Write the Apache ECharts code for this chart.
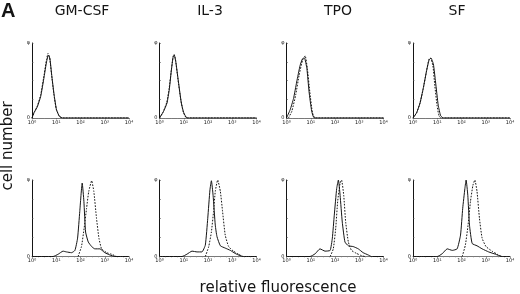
<!DOCTYPE html>
<html><head><meta charset="utf-8">
<script src="https://cdn.jsdelivr.net/npm/echarts@6/dist/echarts.min.js"></script>
<style>html,body{margin:0;padding:0;background:#fff}#c{width:520px;height:294px}</style>
</head><body><div id="c"></div>
<script>
// x = log10(relative fluorescence) in decades, y = relative cell number (axis max = 1)
const panelTitles = ['GM-CSF', 'IL-3', 'TPO', 'SF'];
const xTickLabels = ['10\u2070', '10\u00b9', '10\u00b2', '10\u00b3', '10\u2074'];
const yTickLabels = ['0', '\u03c6'];

// top row (control)
const gmTopSolid = [[0,0],[0.08,0.07],[0.22,0.15],[0.36,0.29],[0.5,0.55],[0.6,0.75],[0.68,0.84],[0.74,0.79],[0.82,0.55],[0.92,0.29],[1.01,0.11],[1.13,0.02],[1.26,0],[4,0]];
const gmTopDash  = [[0,0],[0.1,0.08],[0.22,0.16],[0.36,0.31],[0.5,0.58],[0.6,0.78],[0.66,0.86],[0.72,0.82],[0.8,0.6],[0.9,0.32],[1.0,0.12],[1.12,0.03],[1.25,0],[4,0]];
const il3TopSolid = [[0,0],[0.17,0.09],[0.31,0.2],[0.4,0.37],[0.49,0.64],[0.56,0.81],[0.61,0.84],[0.68,0.73],[0.79,0.46],[0.9,0.2],[1.0,0.07],[1.14,0],[4,0]];
const il3TopDash  = [[0,0],[0.15,0.08],[0.3,0.21],[0.4,0.4],[0.5,0.67],[0.56,0.82],[0.6,0.85],[0.66,0.78],[0.76,0.52],[0.88,0.24],[0.98,0.08],[1.12,0],[4,0]];
const tpoTopSolid = [[0,0],[0.15,0.11],[0.29,0.26],[0.42,0.48],[0.56,0.7],[0.66,0.79],[0.74,0.8],[0.84,0.66],[0.93,0.35],[1.04,0.09],[1.15,0],[4,0]];
const tpoTopDash  = [[0.08,0],[0.22,0.09],[0.38,0.31],[0.52,0.57],[0.66,0.77],[0.77,0.83],[0.86,0.66],[0.96,0.35],[1.07,0.07],[1.18,0],[4,0]];
const sfTopSolid = [[0,0],[0.15,0.07],[0.29,0.2],[0.42,0.39],[0.56,0.63],[0.66,0.77],[0.74,0.8],[0.84,0.72],[0.93,0.48],[1.04,0.17],[1.14,0.03],[1.25,0],[4,0]];
const sfTopDash  = [[0,0],[0.15,0.07],[0.29,0.2],[0.42,0.39],[0.56,0.63],[0.66,0.79],[0.72,0.8],[0.82,0.7],[0.9,0.43],[0.99,0.17],[1.07,0.03],[1.15,0],[4,0]];

// bottom row (stimulated)
const gmBotSolid = [[0,0],[0.87,0],[1.08,0.03],[1.28,0.07],[1.42,0.06],[1.63,0.05],[1.77,0.08],[1.88,0.24],[1.97,0.59],[2.07,0.96],[2.14,0.72],[2.21,0.32],[2.32,0.19],[2.46,0.13],[2.59,0.1],[2.8,0.1],[3.0,0.05],[3.21,0.02],[3.42,0],[4,0]];
const gmBotDash  = [[1.9,0],[2.04,0.13],[2.15,0.37],[2.25,0.63],[2.34,0.85],[2.46,0.99],[2.55,0.85],[2.66,0.5],[2.76,0.24],[2.87,0.1],[3.08,0.05],[3.28,0.03],[3.49,0]];
const il3BotSolid = [[0,0],[0.93,0],[1.13,0.03],[1.34,0.07],[1.55,0.06],[1.75,0.06],[1.89,0.15],[1.99,0.5],[2.08,0.87],[2.14,0.99],[2.21,0.8],[2.3,0.41],[2.37,0.26],[2.51,0.14],[2.71,0.11],[2.92,0.08],[3.12,0.04],[3.33,0.01],[3.47,0],[4,0]];
const il3BotDash  = [[1.89,0],[2.03,0.13],[2.14,0.32],[2.23,0.59],[2.3,0.85],[2.4,1.0],[2.51,0.85],[2.6,0.59],[2.71,0.28],[2.85,0.13],[3.05,0.07],[3.26,0.03],[3.42,0]];
const tpoBotSolid = [[0,0],[0.97,0],[1.18,0.035],[1.38,0.1],[1.59,0.07],[1.8,0.08],[1.89,0.24],[1.97,0.54],[2.07,0.89],[2.14,1.0],[2.21,0.8],[2.3,0.45],[2.41,0.19],[2.55,0.14],[2.75,0.13],[2.96,0.1],[3.16,0.05],[3.37,0.02],[3.5,0],[4,0]];
const tpoBotDash  = [[1.8,0],[1.93,0.1],[2.03,0.37],[2.11,0.72],[2.21,0.96],[2.27,1.0],[2.36,0.8],[2.44,0.45],[2.55,0.19],[2.68,0.08],[2.89,0.04],[3.1,0.01],[3.23,0]];
const sfBotSolid = [[0,0],[1.0,0],[1.2,0.035],[1.41,0.1],[1.62,0.08],[1.82,0.1],[1.96,0.28],[2.05,0.63],[2.14,0.89],[2.19,1.0],[2.26,0.8],[2.33,0.41],[2.44,0.17],[2.64,0.14],[2.85,0.1],[3.12,0.06],[3.4,0.03],[3.67,0],[4,0]];
const sfBotDash  = [[2.03,0],[2.16,0.15],[2.27,0.41],[2.37,0.72],[2.47,0.93],[2.55,1.0],[2.64,0.85],[2.74,0.5],[2.85,0.24],[3.01,0.13],[3.26,0.07],[3.47,0.03],[3.64,0]];

const topSolid = [gmTopSolid, il3TopSolid, tpoTopSolid, sfTopSolid];
const topDash = [gmTopDash, il3TopDash, tpoTopDash, sfTopDash];
const botSolid = [gmBotSolid, il3BotSolid, tpoBotSolid, sfBotSolid];
const botDash = [gmBotDash, il3BotDash, tpoBotDash, sfBotDash];

const lefts = [32, 159.5, 286.5, 413];
const W = 97;
const rows = [{top: 43, height: 75}, {top: 180, height: 76.5}];
const ink = '#151515';

const grid = [], xAxis = [], yAxis = [], series = [];
rows.forEach((r, ri) => {
  lefts.forEach((l, ci) => {
    const idx = grid.length;
    grid.push({left: l, top: r.top, width: W, height: r.height});
    xAxis.push({
      type: 'value', gridIndex: idx, min: 0, max: 4, interval: 1,
      axisLine: {show: true, lineStyle: {color: '#555', width: 0.8}},
      axisTick: {show: true, length: 1.5, lineStyle: {color: '#555', width: 0.6}},
      minorTick: {show: true, splitNumber: 4, length: 1, lineStyle: {color: '#888', width: 0.5}},
      splitLine: {show: false},
      axisLabel: {fontSize: 5, color: ink, margin: 2, fontFamily: 'DejaVu Sans',
        formatter: v => xTickLabels[Math.round(v)]}
    });
    yAxis.push({
      type: 'value', gridIndex: idx, min: 0, max: 1, interval: 0.25,
      axisLine: {show: true, lineStyle: {color: ink, width: 1}},
      axisTick: {show: true, inside: true, length: 1.5, lineStyle: {color: '#555', width: 0.6}},
      splitLine: {show: false},
      axisLabel: {fontSize: 5, color: ink, margin: 2, fontFamily: 'DejaVu Sans',
        formatter: v => v === 0 ? yTickLabels[0] : (v === 1 ? yTickLabels[1] : '')}
    });
    const s = ri === 0 ? topSolid[ci] : botSolid[ci];
    const d = ri === 0 ? topDash[ci] : botDash[ci];
    series.push({type: 'line', xAxisIndex: idx, yAxisIndex: idx, data: s, symbol: 'none',
      smooth: 0.15, lineStyle: {color: ink, width: 1}, z: 3, silent: true});
    series.push({type: 'line', xAxisIndex: idx, yAxisIndex: idx, data: d, symbol: 'none',
      smooth: 0.15, lineStyle: {color: ink, width: 1, type: [1.6, 1.4]}, z: 2, silent: true});
  });
});

const titleCenters = [82, 210, 338, 457];
const graphic = [
  {type: 'text', left: 1, top: 1, style: {text: 'A', font: 'bold 20px "Liberation Sans", Arial', fill: ink}},
  {type: 'text', x: 8, y: 146, rotation: Math.PI / 2,
    style: {text: 'cell number', font: '15px "DejaVu Sans"', fill: ink, align: 'center', verticalAlign: 'middle'}},
  {type: 'text', x: 278, y: 288, style: {text: 'relative fluorescence', font: '15px "DejaVu Sans"', fill: ink, align: 'center', verticalAlign: 'middle'}}
];
panelTitles.forEach((t, i) => {
  graphic.push({type: 'text', x: titleCenters[i], y: 11,
    style: {text: t, font: '14px "DejaVu Sans"', fill: ink, align: 'center', verticalAlign: 'middle'}});
});

const chart = echarts.init(document.getElementById('c'), null, {renderer: 'canvas'});
chart.setOption({animation: false, backgroundColor: '#fff', grid, xAxis, yAxis, series, graphic});
</script></body></html>
